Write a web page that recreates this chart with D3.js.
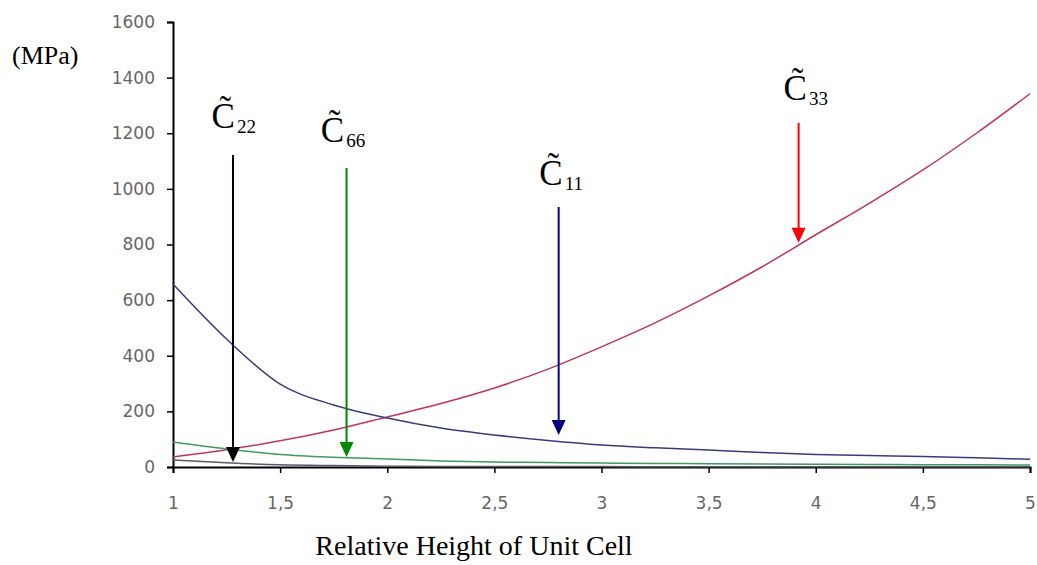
<!DOCTYPE html>
<html lang="en">
<head>
  <meta charset="UTF-8">
  <title>Stiffness vs Relative Height</title>
  <script src="https://d3js.org/d3.v7.min.js"></script>
  <style>
    body { margin: 0; background: #fff; }
    .tick text { font-family: "DejaVu Sans", Arial, sans-serif; font-size: 17px; fill: #666; }
    .serif { font-family: "Liberation Serif", "Times New Roman", serif; fill: #000; }
  </style>
</head>
<body>
  <svg id="chart" width="1037" height="565"></svg>

  <script>
    // x = relative height of unit cell
    const heights = [1, 1.25, 1.5, 1.75, 2, 2.25, 2.5, 2.75, 3, 3.25, 3.5, 3.75, 4, 4.25, 4.5, 4.75, 5];
    const c33 = [36, 62, 94, 133, 180, 228, 284, 352, 432, 518, 615, 720, 835, 948, 1068, 1200, 1342];
    const c11 = [658, 460, 298, 223, 176, 140, 115, 95, 79, 69, 61, 52, 45, 41, 38, 33, 28];
    const c66 = [90, 65, 45, 35, 29, 22, 18, 16, 14, 13, 12, 11, 10, 9, 8, 8, 7];
    const c22 = [25, 15, 8, 5, 3, 2, 2, 2, 2, 1, 1, 1, 1, 1, 1, 1, 1];

    const xTicks = [1, 1.5, 2, 2.5, 3, 3.5, 4, 4.5, 5];
    const yTicks = [0, 200, 400, 600, 800, 1000, 1200, 1400, 1600];

    // annotation arrows: subscript, colour, arrow x, top, tip, label x, label y
    const labels = [
      { sub: "22", color: "#000000", x: 1.28, top: 1122, tip: 18, lx: 1.18, ly: 1219 },
      { sub: "66", color: "#008800", x: 1.81, top: 1075, tip: 36, lx: 1.69, ly: 1169 },
      { sub: "11", color: "#000080", x: 2.80, top: 935, tip: 115, lx: 2.71, ly: 1014 },
      { sub: "33", color: "#ff0000", x: 3.92, top: 1237, tip: 806, lx: 3.85, ly: 1320 }
    ];

    const series = [
      { values: c33, color: "#c2345a" },
      { values: c11, color: "#3a3a80" },
      { values: c66, color: "#3f9a5c" },
      { values: c22, color: "#5a5a6a" }
    ];

    const svg = d3.select("#chart");
    const x = d3.scaleLinear().domain([1, 5]).range([173, 1030]);
    const y = d3.scaleLinear().domain([0, 1600]).range([467, 22]);

    const fmt = d => String(d).replace(".", ",");

    const xAxis = svg.append("g")
      .attr("transform", `translate(0,${y(0)})`)
      .call(d3.axisBottom(x).tickValues(xTicks).tickFormat(fmt).tickSize(6).tickPadding(24));
    const yAxis = svg.append("g")
      .attr("transform", `translate(${x(1)},0)`)
      .call(d3.axisLeft(y).tickValues(yTicks).tickFormat(d3.format("d")).tickSize(6).tickPadding(12));
    [xAxis, yAxis].forEach(a => {
      a.select(".domain").attr("stroke", "#000").attr("stroke-width", 2);
      a.selectAll(".tick line").attr("stroke", "#000").attr("stroke-width", 1.5);
    });

    const line = d3.line()
      .x((d, i) => x(heights[i]))
      .y(d => y(d))
      .curve(d3.curveMonotoneX);

    svg.selectAll(".series")
      .data(series)
      .enter().append("path")
      .attr("class", "series")
      .attr("fill", "none")
      .attr("stroke", d => d.color)
      .attr("stroke-width", 1.5)
      .attr("d", d => line(d.values));

    // arrows
    const ann = svg.selectAll(".ann").data(labels).enter().append("g").attr("class", "ann");
    ann.append("line")
      .attr("x1", d => x(d.x)).attr("x2", d => x(d.x))
      .attr("y1", d => y(d.top)).attr("y2", d => y(d.tip) - 12)
      .attr("stroke", d => d.color).attr("stroke-width", 2);
    ann.append("path")
      .attr("fill", d => d.color)
      .attr("d", d => {
        const px = x(d.x), py = y(d.tip);
        return `M${px - 7},${py - 15}L${px + 7},${py - 15}L${px},${py}Z`;
      });

    const txt = ann.append("text")
      .attr("class", "serif")
      .attr("x", d => x(d.lx))
      .attr("y", d => y(d.ly));
    txt.append("tspan").attr("font-size", 35).text("C\u0303");
    txt.append("tspan").attr("font-size", 19).attr("dx", 2).attr("dy", 5).text(d => d.sub);

    svg.append("text").attr("class", "serif")
      .attr("x", 12).attr("y", 64).attr("font-size", 26).text("(MPa)");
    svg.append("text").attr("class", "serif")
      .attr("x", 474).attr("y", 555).attr("text-anchor", "middle")
      .attr("font-size", 28).text("Relative Height of Unit Cell");
  </script>
</body>
</html>
